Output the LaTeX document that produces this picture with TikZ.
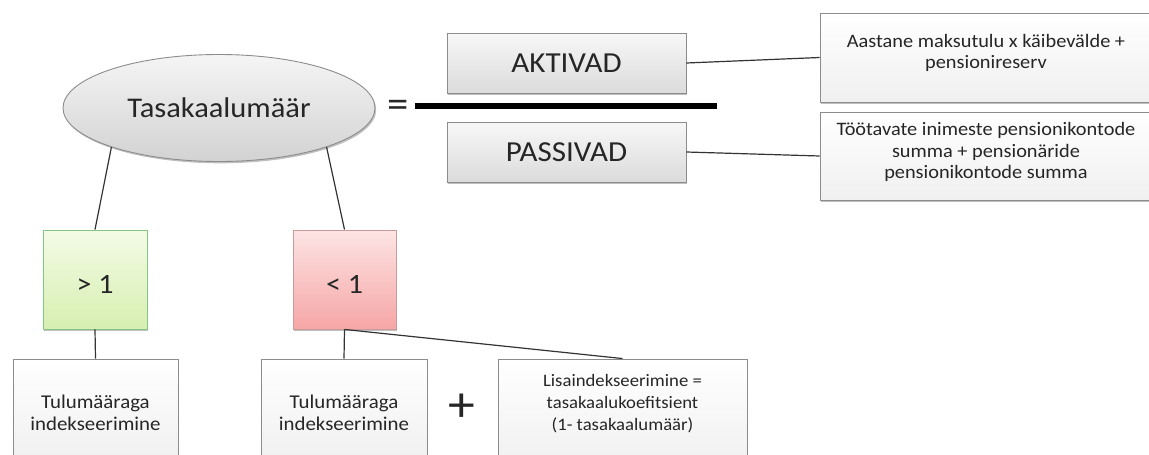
\documentclass[tikz,border=0pt]{standalone}
\usepackage{fontspec}
\setmainfont[FakeStretch=1.07]{Carlito}
\usetikzlibrary{shapes.geometric,shadows}
\definecolor{txt}{HTML}{262626}
\definecolor{edge}{HTML}{8C8C8C}
\definecolor{conn}{HTML}{333333}
\newcommand{\fs}[2]{\fontsize{#1}{#2}\selectfont}
\tikzset{
  shade box/.style={draw=edge, line width=0.9pt, inner sep=0pt, text=txt, align=center,
    drop shadow={shadow xshift=1.2pt, shadow yshift=-1.8pt, opacity=0.25, fill=black}},
  graybox/.style={shade box, top color=gray!6, bottom color=gray!28},
  notebox/.style={shade box, top color=white, bottom color=gray!12},
  greenbox/.style={shade box, draw=green!35!gray!70, top color={rgb,255:red,244;green,251;blue,230}, bottom color={rgb,255:red,214;green,239;blue,176}},
  redbox/.style={shade box, draw=red!30!gray!60, top color={rgb,255:red,253;green,228;blue,228}, bottom color={rgb,255:red,246;green,166;blue,166}},
  link/.style={draw=conn, line width=1.2pt},
}
\begin{document}
\begin{tikzpicture}[x=1pt,y=-1pt]
\useasboundingbox (0,0) rectangle (1149,455);
\clip (0,0) rectangle (1149,455);
% main ellipse
\node[ellipse, graybox, top color=gray!8, bottom color=gray!35, minimum width=312pt, minimum height=107pt, font=\fs{28.5}{32}] (ell) at (219,108) {Tasakaalumäär};
\node[font=\fs{40}{44}, text=txt, inner sep=0pt] (eq) at (398,109) {=};
\coordinate (barL) at (415,106);
\coordinate (barR) at (717,106);
\draw[line width=6pt, black] (barL) -- (barR);
% numerator / denominator
\node[graybox, minimum width=239pt, minimum height=60pt, font=\fs{29}{32}] (akt) at (566.5,63) {AKTIVAD};
\node[graybox, minimum width=239pt, minimum height=60pt, font=\fs{29}{32}] (pas) at (566.5,152) {PASSIVAD};
% notes
\node[notebox, minimum width=332pt, minimum height=89pt, font=\fs{19}{21.5}] (r1) at (986,57.5)
  {\raisebox{4pt}[\height][\depth]{\begin{tabular}{@{}c@{}}Aastane maksutulu x käibevälde +\\ pensionireserv\end{tabular}}};
\node[notebox, minimum width=332pt, minimum height=88pt, font=\fs{19}{21.5}] (r2) at (986,156)
  {\raisebox{3pt}[\height][\depth]{\begin{tabular}{@{}c@{}}Töötavate inimeste pensionikontode\\ summa + pensionäride\\ pensionikontode summa\end{tabular}}};
% conditions
\node[greenbox, minimum width=104pt, minimum height=99pt, font=\fs{28}{32}] (gt) at (95,279.5) {\raisebox{-5pt}[\height][\depth]{> 1}};
\node[redbox, minimum width=103pt, minimum height=99pt, font=\fs{28}{32}] (lt) at (344.5,279.5) {\raisebox{-5pt}[\height][\depth]{< 1}};
% bottom boxes
\node[notebox, minimum width=165pt, minimum height=104pt, font=\fs{19.5}{22}] (b1) at (95.5,411)
  {\raisebox{-4pt}[\height][\depth]{\begin{tabular}{@{}c@{}}Tulumääraga\\ indekseerimine\end{tabular}}};
\node[notebox, minimum width=166pt, minimum height=104pt, font=\fs{19.5}{22}] (b2) at (344,411)
  {\raisebox{-4pt}[\height][\depth]{\begin{tabular}{@{}c@{}}Tulumääraga\\ indekseerimine\end{tabular}}};
\node[font=\fs{50}{54}, text=txt, inner sep=0pt] (plus) at (462,408) {+};
\node[notebox, minimum width=249pt, minimum height=112pt, font=\fs{17.5}{19.5}] (lisa) at (622.5,415)
  {\raisebox{11pt}[\height][\depth]{\renewcommand\arraystretch{1.12}\begin{tabular}{@{}c@{}}Lisaindekseerimine =\\ tasakaalukoefitsient\\ (1- tasakaalumäär)\end{tabular}}};
% connectors
\draw[link] (ell.200) -- (gt.north);
\draw[link] (ell.340) -- (lt.north);
\draw[link] (gt.south) -- (b1.north);
\draw[link] (lt.south) -- (b2.north);
\draw[link] (lt.south) -- (lisa.north);
\draw[link] (akt.east) -- (r1.west);
\draw[link] (pas.east) -- (r2.west);
\end{tikzpicture}
\end{document}
